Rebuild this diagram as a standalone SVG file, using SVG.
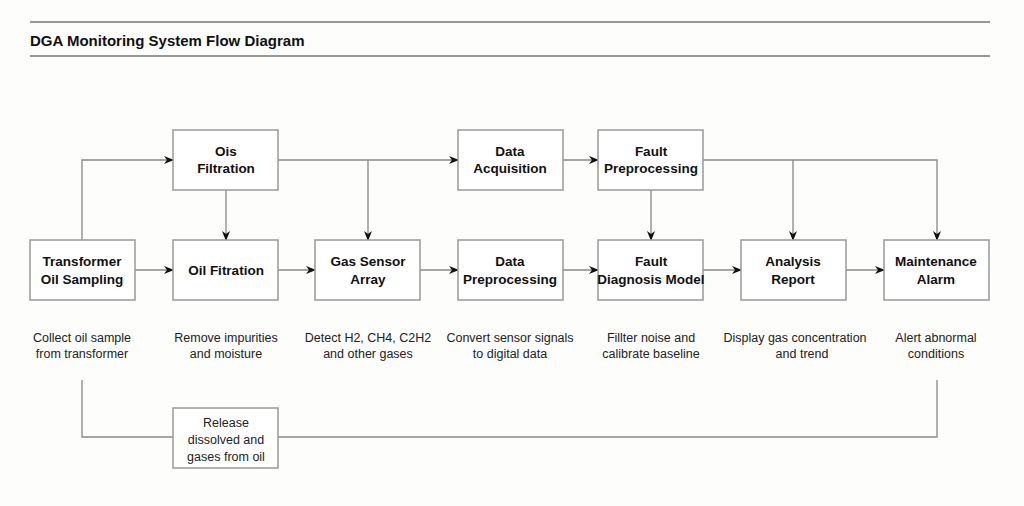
<svg xmlns="http://www.w3.org/2000/svg" width="1024" height="506" viewBox="0 0 1024 506">
<style>
.b{fill:#fff;stroke:#999;stroke-width:1.5}
.t{font-family:"Liberation Sans",Arial,sans-serif;font-size:13.5px;font-weight:bold;fill:#111;text-anchor:middle}
.d{font-family:"Liberation Sans",Arial,sans-serif;font-size:12.5px;fill:#222;text-anchor:middle}
.c{fill:none;stroke:#888;stroke-width:1.3}
</style>
<defs><marker id="a" markerWidth="10" markerHeight="8" refX="9" refY="4" orient="auto" markerUnits="userSpaceOnUse"><path d="M0,0L10,4L0,8L3,4z" fill="#111"/></marker></defs>
<rect width="1024" height="506" fill="#fdfdfb"/>
<line x1="30" y1="22" x2="990" y2="22" stroke="#333"/>
<line x1="30" y1="56" x2="990" y2="56" stroke="#333"/>
<text x="30" y="46" font-family="'Liberation Sans',Arial,sans-serif" font-size="15" font-weight="bold" fill="#111">DGA Monitoring System Flow Diagram</text>
<g id="connectors">
<path class="c" d="M82,240V160H173" marker-end="url(#a)"/>
<path class="c" d="M278,160H458" marker-end="url(#a)"/>
<path class="c" d="M368,160V240" marker-end="url(#a)"/>
<path class="c" d="M226,190V240" marker-end="url(#a)"/>
<path class="c" d="M563,160H598" marker-end="url(#a)"/>
<path class="c" d="M703,160H937V240" marker-end="url(#a)"/>
<path class="c" d="M793,160V240" marker-end="url(#a)"/>
<path class="c" d="M651,190V240" marker-end="url(#a)"/>
<path class="c" d="M135,270H173" marker-end="url(#a)"/>
<path class="c" d="M278,270H315" marker-end="url(#a)"/>
<path class="c" d="M420,270H458" marker-end="url(#a)"/>
<path class="c" d="M563,270H598" marker-end="url(#a)"/>
<path class="c" d="M703,270H741" marker-end="url(#a)"/>
<path class="c" d="M846,270H884" marker-end="url(#a)"/>
<path class="c" d="M82,380V437H173M278,437H937V380"/>
</g>
<g id="n1"><rect class="b" x="30" y="240" width="105" height="60"/><text class="t" x="82" y="266">Transformer</text><text class="t" x="82" y="284">Oil Sampling</text></g>
<g id="n2"><rect class="b" x="173" y="130" width="105" height="60"/><text class="t" x="226" y="156">Ois</text><text class="t" x="226" y="173">Filtration</text></g>
<g id="n3"><rect class="b" x="173" y="240" width="105" height="60"/><text class="t" x="226" y="275">Oil Fitration</text></g>
<g id="n4"><rect class="b" x="315" y="240" width="105" height="60"/><text class="t" x="368" y="266">Gas Sensor</text><text class="t" x="368" y="284">Array</text></g>
<g id="n5"><rect class="b" x="458" y="130" width="105" height="60"/><text class="t" x="510" y="156">Data</text><text class="t" x="510" y="173">Acquisition</text></g>
<g id="n6"><rect class="b" x="458" y="240" width="105" height="60"/><text class="t" x="510" y="266">Data</text><text class="t" x="510" y="284">Preprocessing</text></g>
<g id="n7"><rect class="b" x="598" y="130" width="105" height="60"/><text class="t" x="651" y="156">Fault</text><text class="t" x="651" y="173">Preprocessing</text></g>
<g id="n8"><rect class="b" x="598" y="240" width="105" height="60"/><text class="t" x="651" y="266">Fault</text><text class="t" x="651" y="284">Diagnosis Model</text></g>
<g id="n9"><rect class="b" x="741" y="240" width="105" height="60"/><text class="t" x="793" y="266">Analysis</text><text class="t" x="793" y="284">Report</text></g>
<g id="n10"><rect class="b" x="884" y="240" width="105" height="60"/><text class="t" x="936" y="266">Maintenance</text><text class="t" x="936" y="284">Alarm</text></g>
<g id="n11"><rect class="b" x="173" y="408" width="105" height="60" stroke="#bbb"/><text class="d" x="226" y="427" fill="#555">Release</text><text class="d" x="226" y="444" fill="#555">dissolved and</text><text class="d" x="226" y="461" fill="#555">gases from oil</text></g>
<g id="descs">
<text class="d" x="82" y="342">Collect oil sample</text><text class="d" x="82" y="358">from transformer</text>
<text class="d" x="226" y="342">Remove impurities</text><text class="d" x="226" y="358">and moisture</text>
<text class="d" x="368" y="342">Detect H2, CH4, C2H2</text><text class="d" x="368" y="358">and other gases</text>
<text class="d" x="510" y="342">Convert sensor signals</text><text class="d" x="510" y="358">to digital data</text>
<text class="d" x="651" y="342">Fillter noise and</text><text class="d" x="651" y="358">calibrate baseline</text>
<text class="d" x="795" y="342">Display gas concentration</text><text class="d" x="802" y="358">and trend</text>
<text class="d" x="936" y="342">Alert abnormal</text><text class="d" x="936" y="358">conditions</text>
</g>
</svg>
